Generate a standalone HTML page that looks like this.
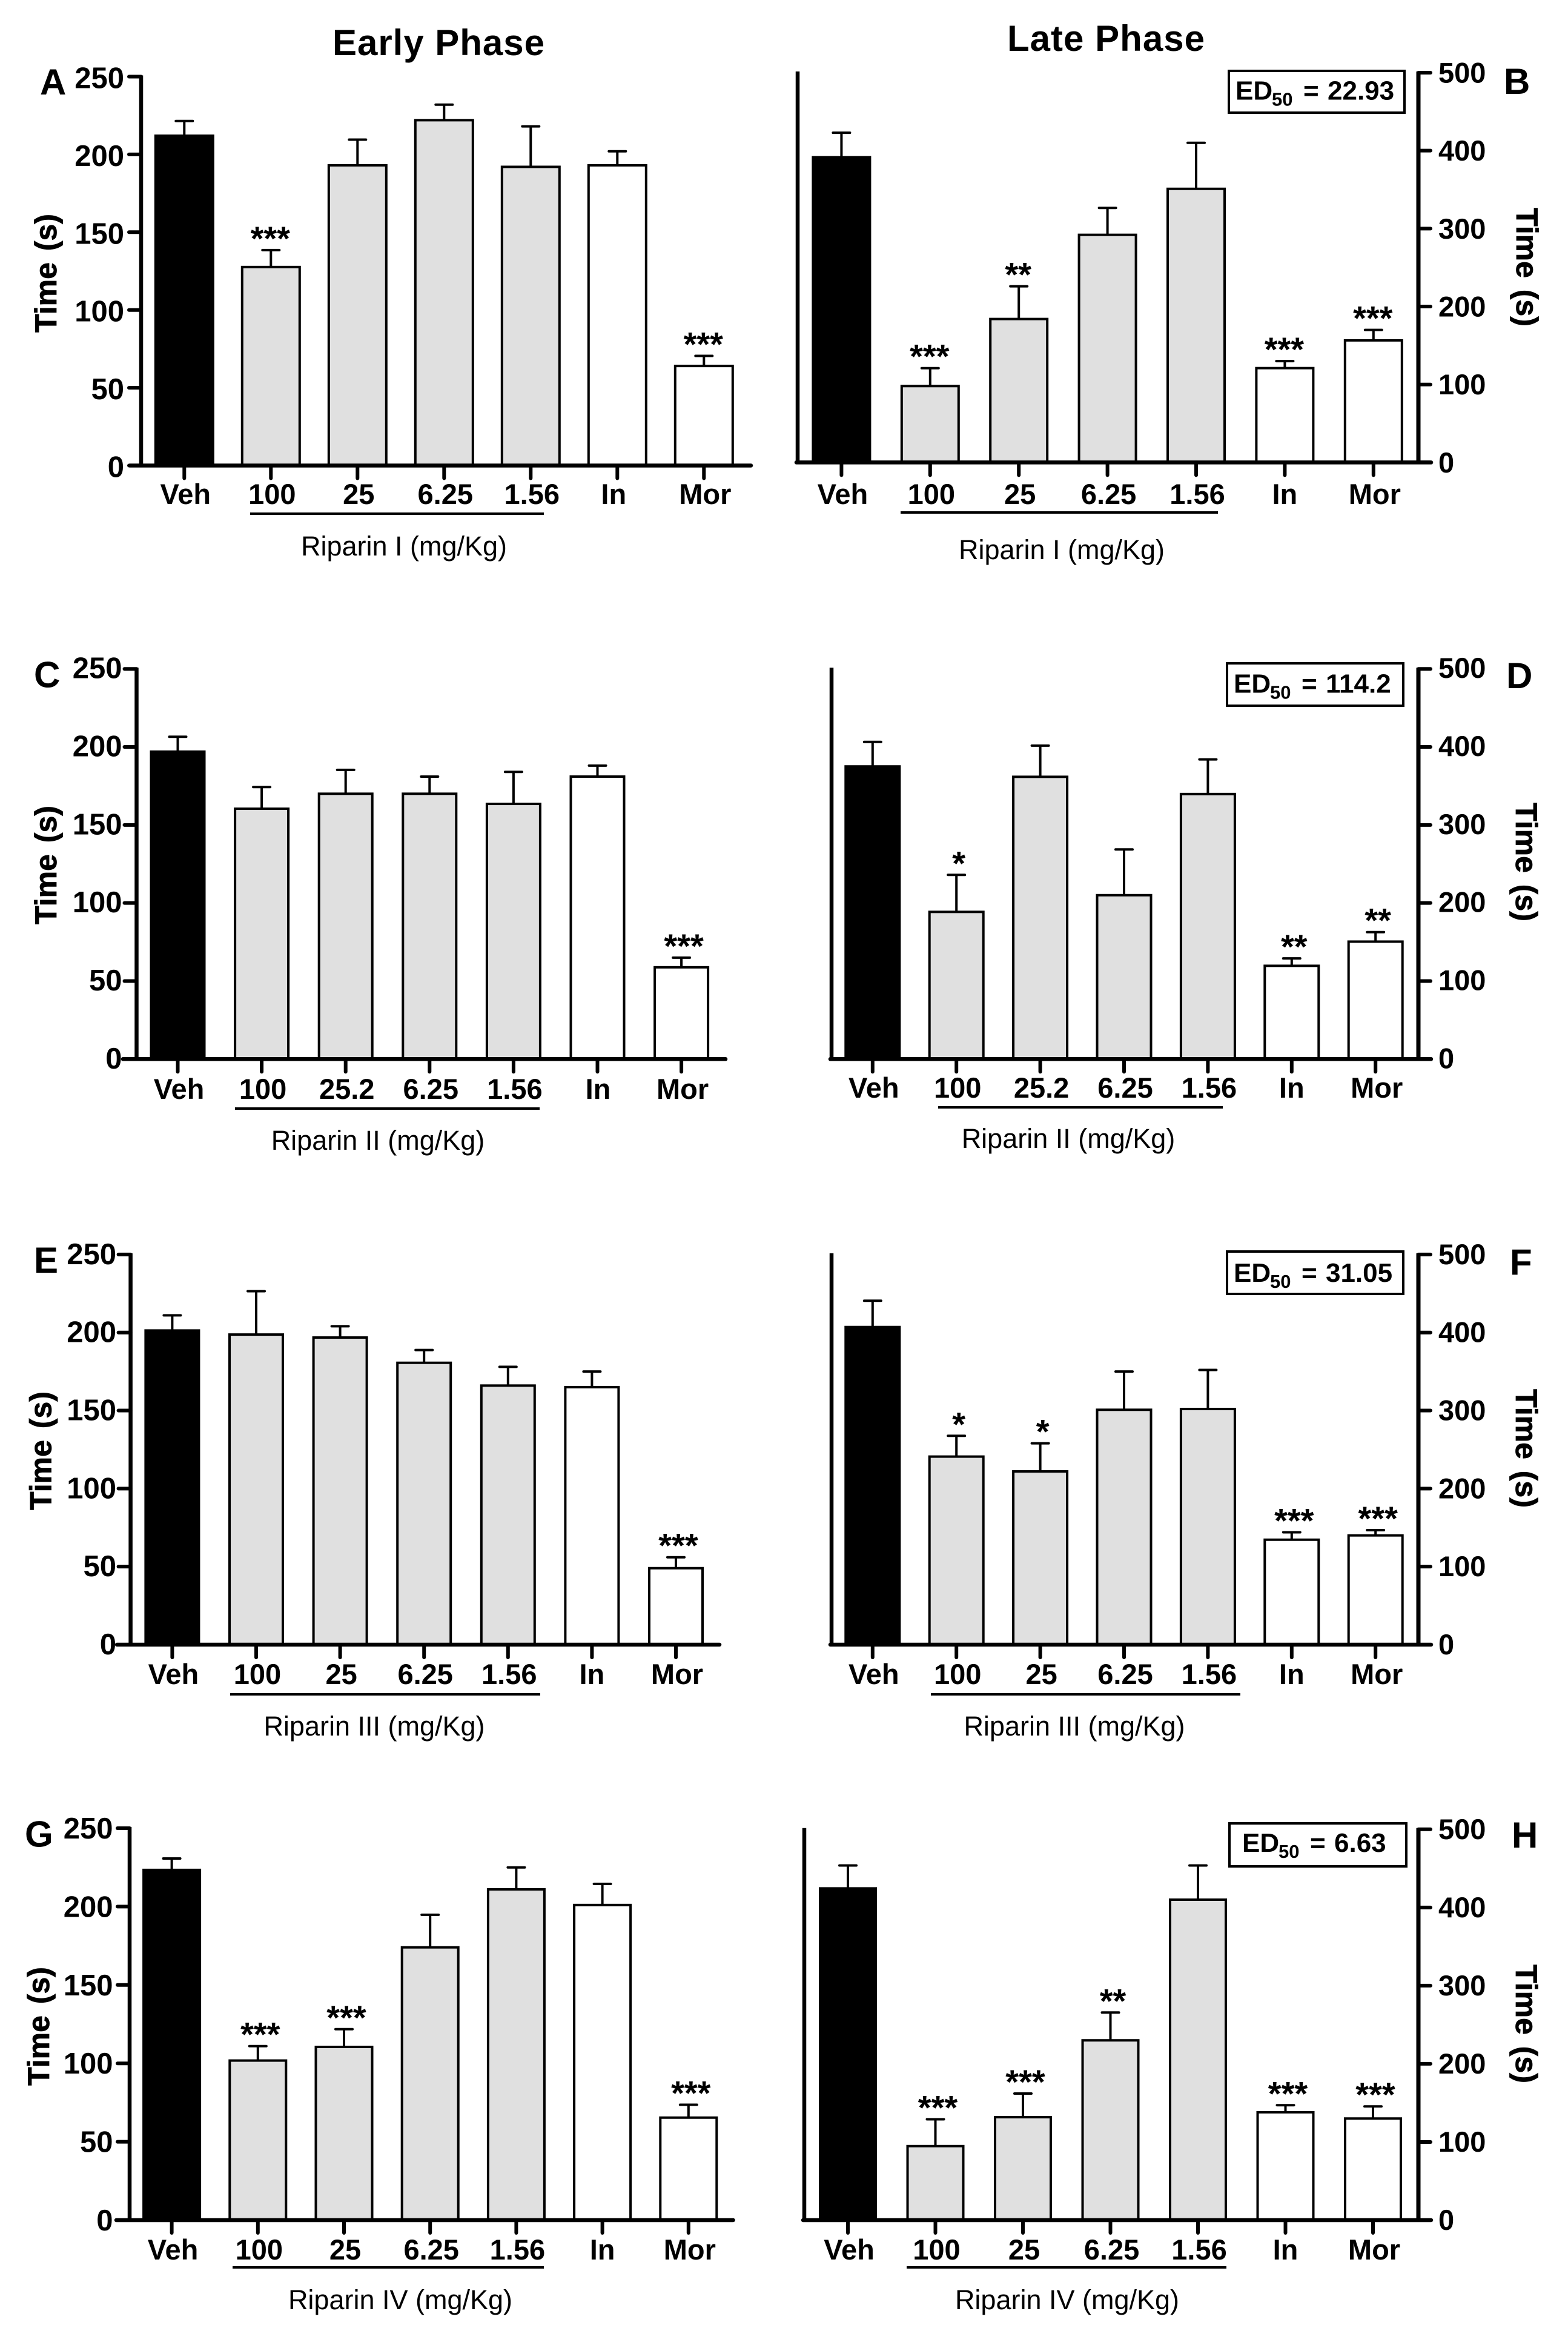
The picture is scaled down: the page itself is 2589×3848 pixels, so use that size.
<!DOCTYPE html>
<html lang="en">
<head>
<meta charset="utf-8">
<title>Riparin I-IV early and late phase response times</title>
<style>
html,body{margin:0;padding:0;background:#fff;}
svg{display:block;font-family:"Liberation Sans",Arial,sans-serif;}
text{fill:#000;}
</style>
</head>
<body>
<svg id="figure" xmlns="http://www.w3.org/2000/svg" width="2589" height="3848" viewBox="0 0 2589 3848">
<rect x="0" y="0" width="2589" height="3848" fill="#fff"/>
<text x="724" y="91" font-size="60" font-weight="700" text-anchor="middle" textLength="350" lengthAdjust="spacing">Early Phase</text>
<text x="1826" y="84" font-size="60" font-weight="700" text-anchor="middle" textLength="326" lengthAdjust="spacing">Late Phase</text>
</svg>
<script>
// Chart data
const earlyTicks = [0, 50, 100, 150, 200, 250];
const lateTicks = [0, 100, 200, 300, 400, 500];

const catsAB = ["Veh", "100", "25", "6.25", "1.56", "In", "Mor"];
const catsCD = ["Veh", "100", "25.2", "6.25", "1.56", "In", "Mor"];
const catsEF = ["Veh", "100", "25", "6.25", "1.56", "In", "Mor"];
const catsGH = ["Veh", "100", "25", "6.25", "1.56", "In", "Mor"];

const valuesA = [212, 127.6, 193, 222, 192, 193, 64];
const errorsA = [221.5, 138.5, 209.5, 232, 218, 202, 70.5];
const sigA = ["", "***", "", "", "", "", "***"];

const valuesB = [391.5, 98, 184, 292, 351, 121, 156.6];
const errorsB = [423, 121, 226, 326.5, 410, 130, 170];
const sigB = ["", "***", "**", "", "", "***", "***"];

const valuesC = [197, 160.4, 170, 170, 163.5, 181, 58.8];
const errorsC = [206.5, 174.3, 185.3, 181, 184, 188, 65];
const sigC = ["", "", "", "", "", "", "***"];

const valuesD = [375, 188.6, 361.7, 210, 339.6, 119.5, 150.5];
const errorsD = [406.4, 236, 401.7, 268.6, 384, 129, 162.7];
const sigD = ["", "*", "", "", "", "**", "**"];

const valuesE = [201.3, 198.7, 196.8, 180.6, 166, 165, 49];
const errorsE = [211, 226.5, 204, 188.8, 178, 175, 56];
const sigE = ["", "", "", "", "", "", "***"];

const valuesF = [407, 241, 222, 301, 302, 134.5, 140];
const errorsF = [440.7, 267.6, 258, 350, 352, 144, 146.7];
const sigF = ["", "*", "*", "", "", "***", "***"];

const valuesG = [223.4, 101.8, 110.5, 174, 211, 201, 65.4];
const errorsG = [230.7, 111, 121.8, 194.8, 225, 214.5, 73.6];
const sigG = ["", "***", "***", "", "", "", "***"];

const valuesH = [424.4, 94.7, 131.7, 230, 410, 138, 130];
const errorsH = [453.7, 129, 162, 265.6, 453.7, 147, 145.5];
const sigH = ["", "***", "***", "**", "", "***", "***"];

const barFills = ["#000", "#e0e0e0", "#e0e0e0", "#e0e0e0", "#e0e0e0", "#fff", "#fff"];

const svg = document.getElementById('figure');
const NS = 'http://www.w3.org/2000/svg';

function mk(tag, attrs, parent, txt) {
  const e = document.createElementNS(NS, tag);
  for (const k in attrs) e.setAttribute(k, attrs[k]);
  if (txt !== undefined) e.textContent = txt;
  parent.appendChild(e);
  return e;
}

function drawPanel(p) {
  const g = mk('g', {}, svg);
  
  

  const yScale = v => p.bottom - (v / p.maxV) * (p.bottom - p.top);
  const xScale = i => p.x0 + i * p.dx;

  // bars + errors
  p.values.forEach((v, i) => {
    const cx = xScale(i), y = yScale(v), ye = yScale(p.errors[i]);
    const stem = mk('line', {x1: cx, x2: cx, y1: y, y2: ye, stroke: '#000', 'stroke-width': 4}, g);
    
    
    const cap = mk('line', {x1: cx - 14, x2: cx + 14, y1: ye, y2: ye, stroke: '#000', 'stroke-width': 4, 'stroke-linecap': 'round'}, g);
    
    
    const bar = mk('rect', {x: cx - p.barW / 2 + 2, y: y, width: p.barW - 4, height: p.bottom - y, fill: barFills[i], stroke: '#000', 'stroke-width': 4}, g);
    
    
    if (p.sig[i]) {
      const s = mk('text', {x: cx + p.starDx, y: ye, 'font-size': 56, 'font-weight': 700, 'text-anchor': 'middle'}, g, p.sig[i]);
      
      
    }
    const tk = mk('line', {x1: cx, x2: cx, y1: p.bottom, y2: p.bottom + 21, stroke: '#000', 'stroke-width': 6, 'stroke-linecap': 'round'}, g);
    
    
    const lx = i === 5 ? cx + p.inDx : cx + 2;
    const lab = mk('text', {x: lx, y: p.labelY, 'font-size': 47, 'font-weight': 700, 'text-anchor': 'middle'}, g, p.cats[i]);
    
    
  });

  // x axis
  const xa = mk('line', {x1: p.xaStart, x2: p.xaEnd, y1: p.bottom, y2: p.bottom, stroke: '#000', 'stroke-width': 6.5, 'stroke-linecap': 'round'}, g);
  
  

  // left axis line (always)
  const la = mk('line', {x1: p.axisX, x2: p.axisX, y1: p.top - 2, y2: p.bottom, stroke: '#000', 'stroke-width': 6.5}, g);
  
  

  // y axis with ticks
  const tickAxis = p.late ? p.rightX : p.axisX;
  if (p.late) {
    const ra = mk('line', {x1: p.rightX, x2: p.rightX, y1: p.top - 2, y2: p.bottom, stroke: '#000', 'stroke-width': 7}, g);
    
    
  }
  p.ticks.forEach(t => {
    const y = yScale(t);
    const dir = p.late ? 1 : -1;
    const tk = mk('line', {x1: tickAxis, x2: tickAxis + dir * 20, y1: y, y2: y, stroke: '#000', 'stroke-width': 6, 'stroke-linecap': 'round'}, g);
    
    
    const lab = mk('text', {x: p.late ? 2375 : p.tickLabelX, y: y + p.tickDy, 'font-size': p.late ? 47 : 49, 'font-weight': 700, 'text-anchor': p.late ? 'start' : 'end'}, g, t);
    
    
  });

  // y axis title
  const title = mk('text', {
    x: p.timeX, y: p.timeY, 'font-size': 50, 'font-weight': 700, 'text-anchor': 'middle',
    style: 'word-spacing:5px;stroke:#000;stroke-width:0.8',
    transform: 'rotate(' + (p.late ? 90 : -90) + ' ' + p.timeX + ' ' + p.timeY + ')'
  }, g, 'Time (s)');
  
  

  // underline for dose group
  const ul = mk('line', {x1: p.ulX1, x2: p.ulX2, y1: p.ulY, y2: p.ulY, stroke: '#000', 'stroke-width': 4}, g);
  
  

  // group label
  const gl = mk('text', {x: p.groupX, y: p.groupY, 'font-size': 45, 'text-anchor': 'middle'}, g, p.group);
  
  

  // panel letter
  const letter = mk('text', {x: p.letterX, y: p.letterY, 'font-size': 60, 'font-weight': 700}, g, p.id);
  
  

  // ED50 box
  if (p.ed) {
    const box = mk('rect', {x: p.edBox[0], y: p.edBox[1], width: p.edBox[2] - p.edBox[0], height: p.edBox[3] - p.edBox[1], fill: '#fff', stroke: '#000', 'stroke-width': 4}, g);
    
    
    const t = mk('text', {x: p.edTextX, y: p.edTextY, 'font-size': 44, 'font-weight': 700}, g);
    
    
    t.appendChild(document.createTextNode('ED'));
    mk('tspan', {'font-size': 31, x: p.edTextX + 60, y: p.edTextY + 10}, t, '50');
    mk('tspan', {x: p.edTextX + 112, y: p.edTextY}, t, '=');
    mk('tspan', {x: p.edTextX + 152, y: p.edTextY}, t, p.ed);
  }
}

const panels = [
  {id: 'A', late: false, cats: catsAB, values: valuesA, errors: errorsA, sig: sigA, ticks: earlyTicks, maxV: 250,
   axisX: 233, top: 126.5, bottom: 768.5, x0: 304.3, dx: 143, barW: 99, xaStart: 214, xaEnd: 1240, tickLabelX: 205, tickDy: 19, starDx: -1, inDx: -6,
   labelY: 832, ulX1: 413, ulX2: 898, ulY: 848, group: 'Riparin I (mg/Kg)', groupX: 667, groupY: 917,
   letterX: 66, letterY: 156, timeX: 93, timeY: 451},
  {id: 'B', late: true, cats: catsAB, values: valuesB, errors: errorsB, sig: sigB, ticks: lateTicks, maxV: 500,
   axisX: 1317, rightX: 2342, top: 120, bottom: 763.4, x0: 1389.4, dx: 146.4, barW: 98, xaStart: 1315, xaEnd: 2363, tickDy: 16.5, starDx: -1, inDx: 0,
   labelY: 832, ulX1: 1487, ulX2: 2011, ulY: 846, group: 'Riparin I (mg/Kg)', groupX: 1753, groupY: 923,
   letterX: 2483, letterY: 155, timeX: 2504, timeY: 441,
   ed: '22.93', edBox: [2029, 117, 2319, 186], edTextX: 2040, edTextY: 164.5},
  {id: 'C', late: false, cats: catsCD, values: valuesC, errors: errorsC, sig: sigC, ticks: earlyTicks, maxV: 250,
   axisX: 225.5, top: 1104.2, bottom: 1748.3, x0: 293.5, dx: 138.6, barW: 92, xaStart: 203, xaEnd: 1198, tickLabelX: 201.5, tickDy: 15.5, starDx: 4, inDx: 1,
   labelY: 1814, ulX1: 388, ulX2: 891, ulY: 1830, group: 'Riparin II (mg/Kg)', groupX: 624, groupY: 1898,
   letterX: 56, letterY: 1134.5, timeX: 93, timeY: 1428},
  {id: 'D', late: true, cats: catsCD, values: valuesD, errors: errorsD, sig: sigD, ticks: lateTicks, maxV: 500,
   axisX: 1373, rightX: 2342, top: 1104.2, bottom: 1748.3, x0: 1440.8, dx: 138.4, barW: 93, xaStart: 1371, xaEnd: 2363, tickDy: 15, starDx: 4, inDx: 0,
   labelY: 1812, ulX1: 1549, ulX2: 2019, ulY: 1828, group: 'Riparin II (mg/Kg)', groupX: 1764, groupY: 1895,
   letterX: 2487, letterY: 1136, timeX: 2503, timeY: 1423,
   ed: '114.2', edBox: [2026, 1095, 2317, 1165], edTextX: 2037, edTextY: 1143.6},
  {id: 'E', late: false, cats: catsEF, values: valuesE, errors: errorsE, sig: sigE, ticks: earlyTicks, maxV: 250,
   axisX: 215.6, top: 2070.9, bottom: 2715, x0: 284.4, dx: 138.6, barW: 92, xaStart: 193, xaEnd: 1188, tickLabelX: 192, tickDy: 16, starDx: 4, inDx: 0,
   labelY: 2780, ulX1: 380, ulX2: 892, ulY: 2797, group: 'Riparin III (mg/Kg)', groupX: 618, groupY: 2865,
   letterX: 56, letterY: 2101, timeX: 84.6, timeY: 2395},
  {id: 'F', late: true, cats: catsEF, values: valuesF, errors: errorsF, sig: sigF, ticks: lateTicks, maxV: 500,
   axisX: 1373, rightX: 2342, top: 2070.9, bottom: 2715, x0: 1440.8, dx: 138.4, barW: 93, xaStart: 1371, xaEnd: 2363, tickDy: 16, starDx: 4, inDx: 0,
   labelY: 2780, ulX1: 1537, ulX2: 2048, ulY: 2797, group: 'Riparin III (mg/Kg)', groupX: 1774, groupY: 2865,
   letterX: 2493, letterY: 2104, timeX: 2503, timeY: 2391,
   ed: '31.05', edBox: [2026, 2066, 2317, 2136], edTextX: 2037, edTextY: 2116},
  {id: 'G', late: false, cats: catsGH, values: valuesG, errors: errorsG, sig: sigG, ticks: earlyTicks, maxV: 250,
   axisX: 214, top: 3018, bottom: 3665, x0: 283.6, dx: 142.2, barW: 97, xaStart: 192, xaEnd: 1210.6, tickLabelX: 186.5, tickDy: 17, starDx: 4, inDx: 0,
   labelY: 3730, ulX1: 384, ulX2: 898, ulY: 3743, group: 'Riparin IV (mg/Kg)', groupX: 661, groupY: 3812,
   letterX: 41, letterY: 3048.5, timeX: 81, timeY: 3345},
  {id: 'H', late: true, cats: catsGH, values: valuesH, errors: errorsH, sig: sigH, ticks: lateTicks, maxV: 500,
   axisX: 1328, rightX: 2342, top: 3019.8, bottom: 3665, x0: 1400, dx: 144.5, barW: 96, xaStart: 1326, xaEnd: 2363, tickDy: 16, starDx: 4, inDx: 0,
   labelY: 3730, ulX1: 1497, ulX2: 2025, ulY: 3743, group: 'Riparin IV (mg/Kg)', groupX: 1762, groupY: 3812,
   letterX: 2496, letterY: 3050, timeX: 2503, timeY: 3341,
   ed: '6.63', edBox: [2030, 3010, 2322, 3081], edTextX: 2051, edTextY: 3057}
];

panels.forEach(drawPanel);
</script>
</body>
</html>
